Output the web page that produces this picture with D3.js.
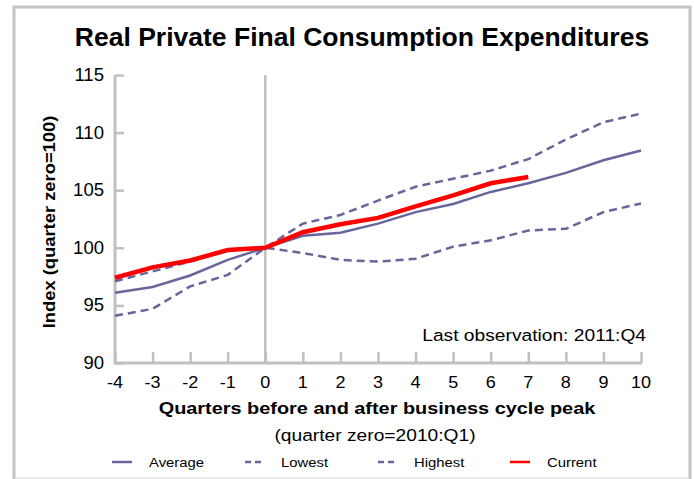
<!DOCTYPE html>
<html>
<head>
<meta charset="utf-8">
<script src="https://cdn.jsdelivr.net/npm/d3@7"></script>
<style>
	body { margin: 0; background: #fff; }
	svg { display: block; font-family: "Liberation Sans", Arial, sans-serif; }
</style>
</head>
<body>
<div id="chart"></div>
<script>
// quarters relative to the business cycle peak
var quarters = [-4, -3, -2, -1, 0, 1, 2, 3, 4, 5, 6, 7, 8, 9, 10];

// index values, quarter zero = 100
var averageVals = [96.1, 96.6, 97.6, 98.95, 100, 101.05, 101.3, 102.1, 103.1, 103.8, 104.85, 105.6, 106.5, 107.6, 108.45];
var lowestVals  = [94.1, 94.7, 96.65, 97.65, 100, 99.55, 98.95, 98.8, 99.05, 100.1, 100.65, 101.5, 101.65, 103.1, 103.85];
var highestVals = [97.1, 97.95, 98.8, 99.75, 100, 102.1, 102.85, 104.1, 105.3, 106.0, 106.7, 107.7, 109.4, 110.9, 111.65];
var currentVals = [97.4, 98.3, 98.9, 99.8, 100, 101.35, 102.05, 102.6, 103.6, 104.55, 105.6, 106.15];

var yTicks = [90, 95, 100, 105, 110, 115];

var series = [
	{name: 'Average', values: averageVals, color: '#66669c', width: 2.5, dash: null},
	{name: 'Lowest',  values: lowestVals,  color: '#66669c', width: 2.5, dash: '8,5'},
	{name: 'Highest', values: highestVals, color: '#66669c', width: 2.5, dash: '8,5'},
	{name: 'Current', values: currentVals, color: '#ff0000', width: 4.5, dash: null}
];

var W = 694, H = 479;
var margin = {top: 75, right: 53, bottom: 116, left: 115};
var width = W - margin.left - margin.right;
var height = H - margin.top - margin.bottom;

// text in the reference is a little wider than Liberation Sans
var SX = 1.13;

var svg = d3.select('#chart').append('svg')
	.attr('width', W)
	.attr('height', H);

// put a text at x,y, stretched along its own direction
function placeText(sel, px, py, sx, rot) {
	return sel.attr('transform', function(d) {
		var xx = typeof px === 'function' ? px(d) : px;
		var yy = typeof py === 'function' ? py(d) : py;
		return 'translate(' + xx + ',' + yy + ')' + (rot ? ' rotate(' + rot + ')' : '') + ' scale(' + sx + ',1)';
	});
}

// frame around the chart
svg.append('rect')
	.attr('x', 14).attr('y', 7)
	.attr('width', 676).attr('height', 490)
	.attr('fill', 'none')
	.attr('stroke', '#c4c4c4')
	.attr('stroke-width', 3);
svg.append('line')
	.attr('x1', 15).attr('x2', 689)
	.attr('y1', 478).attr('y2', 478)
	.attr('stroke', '#e4e4e4')
	.attr('stroke-width', 1.5);

svg.append('text')
	.attr('x', 362).attr('y', 46)
	.attr('text-anchor', 'middle')
	.style('font-size', '26.5px')
	.style('font-weight', 'bold')
	.text('Real Private Final Consumption Expenditures');

var g = svg.append('g')
	.attr('transform', 'translate(' + margin.left + ',' + margin.top + ')');

var x = d3.scaleLinear().domain([-4, 10]).range([0, width]);
var y = d3.scaleLinear().domain([90, 115]).range([height, 0]);

var axisColor = '#c0c0c0';

// y axis: ticks point inward
var yAxis = g.append('g')
	.call(d3.axisRight(y).tickValues(yTicks).tickSize(9).tickFormat(''));
yAxis.select('.domain').remove();
yAxis.selectAll('.tick line').attr('stroke', axisColor).attr('stroke-width', 2.5);
g.append('line')
	.attr('x1', 0).attr('x2', 0).attr('y1', 0).attr('y2', height + 1)
	.attr('stroke', axisColor).attr('stroke-width', 3);
placeText(g.selectAll('.ylab')
	.data(yTicks)
	.enter().append('text')
	.attr('class', 'ylab')
	.attr('text-anchor', 'end')
	.style('font-size', '17.5px')
	.text(function(d) { return d; }), -11, function(d) { return y(d) + 6; }, 1.06);

// x axis: ticks point upward
var xAxis = g.append('g')
	.attr('transform', 'translate(0,' + height + ')')
	.call(d3.axisTop(x).tickValues(quarters).tickSize(11).tickFormat(''));
xAxis.select('.domain').remove();
xAxis.selectAll('.tick line').attr('stroke', axisColor).attr('stroke-width', 2.5);
g.append('line')
	.attr('x1', 0).attr('x2', width + 1).attr('y1', height).attr('y2', height)
	.attr('stroke', axisColor).attr('stroke-width', 3);
placeText(g.selectAll('.xlab')
	.data(quarters)
	.enter().append('text')
	.attr('class', 'xlab')
	.attr('text-anchor', 'middle')
	.style('font-size', '17px')
	.text(function(d) { return d; }), function(d) { return x(d); }, height + 25, 1.06);

// vertical line at the peak
g.append('line')
	.attr('x1', x(0)).attr('x2', x(0))
	.attr('y1', 0).attr('y2', height)
	.attr('stroke', axisColor).attr('stroke-width', 2.5);

var line = d3.line()
	.x(function(d, i) { return x(quarters[i]); })
	.y(function(d) { return y(d); });

g.selectAll('.series')
	.data(series)
	.enter().append('path')
	.attr('class', 'series')
	.attr('d', function(s) { return line(s.values); })
	.attr('fill', 'none')
	.attr('stroke', function(s) { return s.color; })
	.attr('stroke-width', function(s) { return s.width; })
	.attr('stroke-dasharray', function(s) { return s.dash; });

placeText(g.append('text')
	.attr('text-anchor', 'end')
	.style('font-size', '17px')
	.text('Last observation: 2011:Q4'), 531, 266, SX);

// axis titles
placeText(svg.append('text')
	.attr('text-anchor', 'middle')
	.style('font-size', '17px')
	.style('font-weight', 'bold')
	.text('Index (quarter zero=100)'), 55, 222, 1.08, -90);

placeText(svg.append('text')
	.attr('text-anchor', 'middle')
	.style('font-size', '17px')
	.style('font-weight', 'bold')
	.text('Quarters before and after business cycle peak'), 377, 414, 1.17);

placeText(svg.append('text')
	.attr('text-anchor', 'middle')
	.style('font-size', '17px')
	.text('(quarter zero=2010:Q1)'), 375, 441, SX);

// legend
var legendX = [112, 245, 378, 510];
var legend = svg.selectAll('.legend')
	.data(series)
	.enter().append('g')
	.attr('class', 'legend')
	.attr('transform', function(d, i) { return 'translate(' + legendX[i] + ',462)'; });
legend.append('line')
	.attr('x1', 0).attr('x2', function(s) { return s.dash ? 16 : 20; })
	.attr('y1', 0).attr('y2', 0)
	.attr('stroke', function(s) { return s.color; })
	.attr('stroke-width', 2.5)
	.attr('stroke-dasharray', function(s) { return s.dash ? '6,4' : null; });
placeText(legend.append('text')
	.style('font-size', '13.5px')
	.text(function(s) { return s.name; }), function(s) { return s.dash ? 36 : 37; }, 4.5, 1.1);
</script>
</body>
</html>
